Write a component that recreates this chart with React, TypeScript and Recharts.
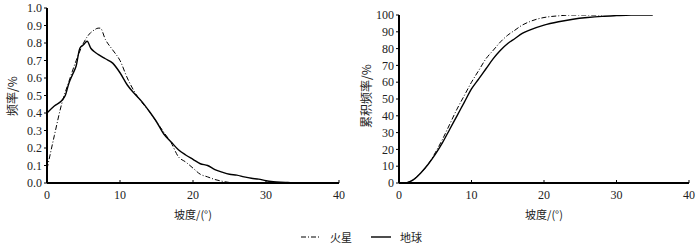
import React from 'react'
import { LineChart, Line, XAxis, YAxis } from 'recharts'

// slope (degrees) sample points and readings from the figure
const earthFreqX = [0, 1, 2, 2.5, 3, 3.5, 4, 4.5, 5, 5.5, 6, 6.5, 7, 8, 9, 10, 11, 12, 13, 14, 15, 16, 17, 18, 19, 20, 21, 22, 23, 24, 25, 26, 27, 28, 29, 30, 31, 32, 33, 34, 35]
const earthFreq = [0.40, 0.44, 0.47, 0.50, 0.57, 0.62, 0.67, 0.77, 0.79, 0.81, 0.77, 0.75, 0.735, 0.71, 0.685, 0.63, 0.56, 0.51, 0.465, 0.41, 0.35, 0.28, 0.235, 0.19, 0.16, 0.135, 0.11, 0.10, 0.077, 0.062, 0.05, 0.045, 0.035, 0.027, 0.022, 0.013, 0.008, 0.005, 0.003, 0.001, 0]

const marsFreqX = [0, 1, 2, 3, 4, 5, 6, 6.5, 7, 7.3, 8, 9, 10, 11, 12, 13, 14, 15, 16, 17, 18, 19, 20, 21, 22, 23, 24, 25, 26]
const marsFreq = [0.08, 0.27, 0.45, 0.58, 0.70, 0.80, 0.86, 0.875, 0.885, 0.885, 0.82, 0.76, 0.70, 0.60, 0.52, 0.46, 0.41, 0.35, 0.29, 0.23, 0.15, 0.12, 0.085, 0.05, 0.035, 0.02, 0.01, 0.003, 0]

const earthCumX = [1, 2, 3, 4, 5, 6, 7, 8, 9, 10, 11, 12, 13, 14, 15, 16, 17, 18, 20, 22, 24, 26, 28, 30, 32, 35]
const earthCum = [0, 2, 6, 11, 17, 24, 32, 40, 48, 56, 62, 68, 74, 79, 83, 86, 89, 91, 94, 96, 97.5, 98.5, 99.2, 99.6, 99.9, 100]

const marsCumX = [1, 2, 3, 4, 5, 6, 7, 8, 9, 10, 11, 12, 13, 14, 15, 16, 17, 18, 19, 20, 22, 24, 28]
const marsCum = [0, 2, 6, 11, 18, 26, 35, 44, 52, 60, 67, 74, 79, 84, 88, 91, 94, 96, 97.5, 98.5, 99.5, 100, 100]

const xTicks = [0, 10, 20, 30, 40]
const freqTicks = [0, 0.1, 0.2, 0.3, 0.4, 0.5, 0.6, 0.7, 0.8, 0.9, 1.0]
const cumTicks = [0, 10, 20, 30, 40, 50, 60, 70, 80, 90, 100]

const zip = (xs: number[], ys: number[]) => xs.map((x, i) => ({ x, y: ys[i] }))

const SERIF = '"Liberation Serif", serif'
const CJK = '"Noto Sans CJK SC", sans-serif'
const MARS_DASH = '5 2 1 2'
const INK = '#222'

const XTick = (props: any) => (
  <text x={props.x} y={props.y} dy="0.71em" textAnchor="middle" style={{ fontFamily: SERIF, fontSize: 12, fill: INK }}>
    {props.payload.value}
  </text>
)

const makeYTick = (fmt: (v: number) => string) => (props: any) => (
  <text x={props.x} y={props.y} dy="0.35em" textAnchor="end" style={{ fontFamily: SERIF, fontSize: 12, fill: INK }}>
    {fmt(props.payload.value)}
  </text>
)

interface PanelProps {
  left: number
  top: number
  yWidth: number
  yDomain: [number, number]
  yTicks: number[]
  yFmt: (v: number) => string
  yLabel: string
  yLabelX: number
  mars: { x: number; y: number }[]
  earth: { x: number; y: number }[]
}

function Panel({ left, top, yWidth, yDomain, yTicks, yFmt, yLabel, yLabelX, mars, earth }: PanelProps) {
  return (
    <div style={{ position: 'absolute', left, top: 0, width: 350, height: 249 }}>
      <LineChart width={350} height={249} margin={{ top, right: 11, left: 0, bottom: 40 }}>
        <XAxis
          type="number"
          dataKey="x"
          domain={[0, 40]}
          ticks={xTicks}
          interval={0}
          tick={<XTick />}
          tickSize={-3}
          tickMargin={10}
          height={26}
          axisLine={{ stroke: '#000', strokeWidth: 2 }}
          tickLine={{ stroke: '#000' }}
          allowDataOverflow
        />
        <YAxis
          type="number"
          dataKey="y"
          domain={yDomain}
          ticks={yTicks}
          interval={0}
          tick={makeYTick(yFmt)}
          tickSize={3}
          tickMargin={2}
          width={yWidth}
          axisLine={{ stroke: '#000', strokeWidth: 2 }}
          tickLine={{ stroke: '#000' }}
          allowDataOverflow
        />
        <Line data={mars} dataKey="y" type="monotone" stroke="#000" strokeWidth={1} strokeDasharray={MARS_DASH} dot={false} isAnimationActive={false} />
        <Line data={earth} dataKey="y" type="monotone" stroke="#000" strokeWidth={1.4} dot={false} isAnimationActive={false} />
      </LineChart>
      <div style={{ position: 'absolute', left: yLabelX - 60, top: 88, width: 120, textAlign: 'center', transform: 'rotate(-90deg)', fontFamily: CJK, fontSize: 12, lineHeight: '16px', color: INK }}>
        {yLabel}
      </div>
      <div style={{ position: 'absolute', left: yWidth, top: 206, width: 350 - yWidth - 11, textAlign: 'center', fontFamily: CJK, fontSize: 11, lineHeight: '16px', color: INK }}>
        坡度/(°)
      </div>
    </div>
  )
}

export default function App() {
  return (
    <div style={{ position: 'absolute', left: 0, top: 0, width: 700, height: 249, background: '#fff', overflow: 'hidden' }}>
      <Panel
        left={0}
        top={8}
        yWidth={47}
        yDomain={[0, 1]}
        yTicks={freqTicks}
        yFmt={(v) => v.toFixed(1)}
        yLabel="频率/%"
        yLabelX={12}
        mars={zip(marsFreqX, marsFreq)}
        earth={zip(earthFreqX, earthFreq)}
      />
      <Panel
        left={350}
        top={15}
        yWidth={49}
        yDomain={[0, 100]}
        yTicks={cumTicks}
        yFmt={(v) => String(v)}
        yLabel="累积频率/%"
        yLabelX={16}
        mars={zip(marsCumX, marsCum)}
        earth={zip(earthCumX, earthCum)}
      />
      <div style={{ position: 'absolute', top: 229, left: 0, width: 700, paddingLeft: 22, boxSizing: 'border-box', display: 'flex', justifyContent: 'center', alignItems: 'center', fontFamily: CJK, fontSize: 11, color: INK }}>
        <svg width={22} height={10} style={{ marginRight: 8 }}>
          <line x1={1} y1={5} x2={21} y2={5} stroke="#000" strokeWidth={1} strokeDasharray={MARS_DASH} />
        </svg>
        <span>火星</span>
        <svg width={22} height={10} style={{ marginLeft: 18, marginRight: 8 }}>
          <line x1={1} y1={5} x2={21} y2={5} stroke="#000" strokeWidth={1.4} />
        </svg>
        <span>地球</span>
      </div>
    </div>
  )
}
